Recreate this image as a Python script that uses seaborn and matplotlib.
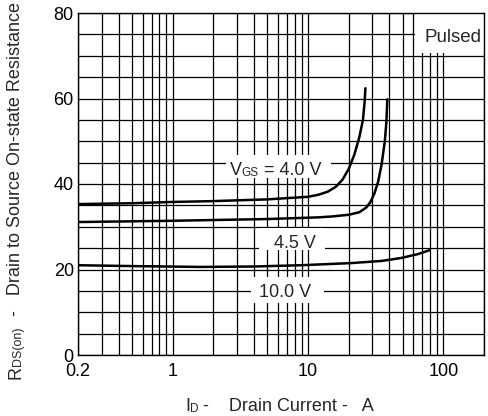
import numpy as np
import pandas as pd
import matplotlib.pyplot as plt
import seaborn as sns
from matplotlib.patches import Rectangle
from matplotlib.ticker import LogLocator, MultipleLocator, NullFormatter

# drain current (A) vs on-state resistance (mOhm)
id_40 = [0.2, 0.5, 1, 2, 5, 10, 12, 14, 16, 18, 20, 22, 24, 25.5, 26.2, 26.6]
r_40 = [35.3, 35.5, 35.8, 36.0, 36.4, 37.0, 37.5, 38.2, 39.3, 41.0, 43.5, 46.8, 51.0, 55.0, 59.0, 62.4]

id_45 = [0.2, 1, 5, 12, 15, 20, 24, 27, 29, 31, 33, 35, 37, 38, 38.6]
r_45 = [31.1, 31.4, 31.8, 32.2, 32.4, 32.8, 33.4, 34.5, 35.8, 37.8, 40.5, 44.5, 50.0, 54.5, 59.8]

id_100 = [0.2, 0.5, 1.6, 4, 8.9, 20.8, 35, 49, 65, 79]
r_100 = [21.0, 20.8, 20.6, 20.7, 21.0, 21.5, 22.0, 22.7, 23.6, 24.5]

vgs = ['4.0 V', '4.5 V', '10.0 V']

df = pd.concat([
    pd.DataFrame({'id': id_40, 'r': r_40, 'vgs': vgs[0]}),
    pd.DataFrame({'id': id_45, 'r': r_45, 'vgs': vgs[1]}),
    pd.DataFrame({'id': id_100, 'r': r_100, 'vgs': vgs[2]}),
])

sns.set_theme(style='white')
plt.rcParams['font.family'] = ['Liberation Sans', 'DejaVu Sans']

fig = plt.figure(figsize=(4.88, 4.16), dpi=100)
ax = fig.add_axes([78 / 488, 1 - 355 / 416, 406 / 488, 342 / 416])

sns.lineplot(data=df, x='id', y='r', hue='vgs', palette=['black'] * 3,
             estimator=None, sort=False, lw=1.8, legend=False, ax=ax, zorder=2)

ax.set_xscale('log')
ax.set_xlim(0.2, 200)
ax.set_ylim(0, 80)
ax.set_xticks([0.2, 1, 10, 100])
ax.set_xticklabels(['0.2', '1', '10', '100'])
ax.xaxis.set_minor_locator(LogLocator(base=10, subs=np.arange(2, 10), numticks=30))
ax.xaxis.set_minor_formatter(NullFormatter())
ax.set_yticks([0, 20, 40, 60, 80])
ax.yaxis.set_minor_locator(MultipleLocator(5))
ax.grid(which='both', color='black', lw=0.9)
ax.tick_params(which='both', length=0, labelsize=13, colors='black')
ax.tick_params(axis='y', pad=3)
ax.tick_params(axis='x', pad=5.5)
ax.set_xlabel('')
ax.set_ylabel('')
for s in ax.spines.values():
    s.set_color('black')
    s.set_linewidth(1.0)

# white boxes behind the labels (they break the grid)
for x0, x1, y0, y1 in [(2.47, 14.8, 41.4, 46.7), (4.34, 13.4, 24.5, 29.7),
                       (3.78, 13.1, 12.1, 18.2), (61.5, 200, 70.7, 80)]:
    ax.add_patch(Rectangle((x0, y0), x1 - x0, y1 - y0, fc='white', ec='none', zorder=1.5))


def chain(first, parts, rot=False):
    # glue text pieces one after another (for the small subscripts)
    t = first
    for txt, size in parts:
        if rot:
            t = ax.annotate(txt, xy=(1, 1), xycoords=t, fontsize=size, rotation=90,
                            ha='right', va='bottom', annotation_clip=False)
        else:
            t = ax.annotate(txt, xy=(1, 0), xycoords=t, fontsize=size,
                            ha='left', va='bottom', zorder=3, annotation_clip=False)
    return t


t = ax.text(2.64, 42.1, 'V', fontsize=13, ha='left', va='baseline', zorder=3)
chain(t, [('GS', 8.5), (' = 4.0 V', 13)])
ax.text(5.6, 25.0, '4.5 V', fontsize=13, ha='left', va='baseline', zorder=3)
ax.text(4.34, 13.6, '10.0 V', fontsize=13, ha='left', va='baseline', zorder=3)
ax.text(72.3, 73.3, 'Pulsed', fontsize=13.5, ha='left', va='baseline', zorder=3)

t = fig.text(185 / 488, 1 - 411 / 416, 'I', fontsize=13, ha='left', va='baseline')
chain(t, [('D', 8.5), (' -    Drain Current -   A', 13)])

# the reference crops this label at the top edge
t = fig.text(24 / 488, 1 - 379 / 416, 'R', fontsize=13, rotation=90, ha='right', va='bottom')
chain(t, [('DS(on)', 9), ('  -   Drain to Source On-state Resistance', 13)], rot=True)

fig.savefig('out.png', dpi=100)
